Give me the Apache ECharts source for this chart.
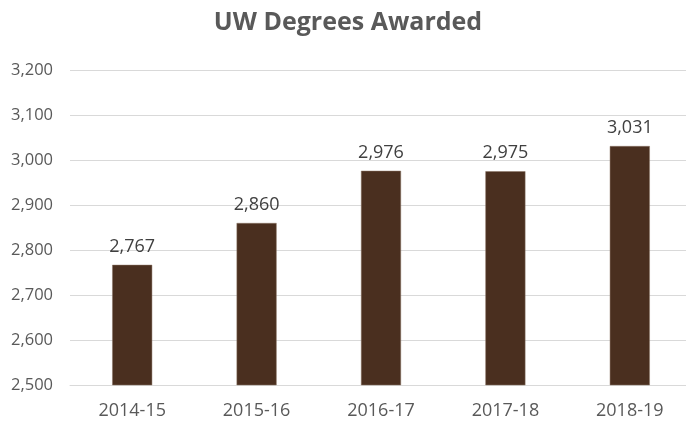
<!DOCTYPE html>
<html>
<head>
<meta charset="utf-8">
<script src="https://cdn.jsdelivr.net/npm/echarts@6/dist/echarts.min.js"></script>
<style>
html,body{margin:0;padding:0;background:#fff;overflow:hidden;}
#chart{width:694px;height:427px;}
</style>
</head>
<body>
<div id="chart"></div>
<script>
const titleText = 'UW Degrees Awarded';
const categories = ['2014-15', '2015-16', '2016-17', '2017-18', '2018-19'];
const degrees = [2767, 2860, 2976, 2975, 3031];
const yMin = 2500, yMax = 3200, yStep = 100;

const chart = echarts.init(document.getElementById('chart'));
const fmt = v => v.toLocaleString('en-US');
chart.setOption({
  animation: false,
  backgroundColor: '#ffffff',
  title: {
    text: titleText,
    left: 343,
    textAlign: 'center',
    top: 5,
    textStyle: { fontFamily: 'Open Sans', fontWeight: 'bold', fontSize: 25, color: '#595959' }
  },
  grid: { left: 70, top: 70, right: 2, height: 315, containLabel: false },
  xAxis: {
    type: 'category',
    data: categories,
    axisLine: { lineStyle: { color: '#d9d9d9', width: 1 } },
    axisTick: { show: false },
    axisLabel: { color: '#595959', fontFamily: 'Open Sans', fontSize: 18, margin: 17 }
  },
  yAxis: {
    type: 'value',
    min: yMin, max: yMax, interval: yStep,
    axisLine: { show: false },
    axisTick: { show: false },
    splitLine: { lineStyle: { color: '#d9d9d9', width: 1 } },
    axisLabel: { color: '#595959', fontFamily: 'Open Sans', fontSize: 16.5, margin: 17, formatter: fmt }
  },
  series: [{
    type: 'bar',
    data: degrees,
    barWidth: 40,
    itemStyle: { color: '#4a2f1f', borderColor: '#8a7565', borderWidth: 0.5 },
    label: {
      show: true, position: 'top', distance: 9,
      color: '#404040', fontFamily: 'Open Sans', fontSize: 18,
      formatter: p => fmt(p.value)
    }
  }]
});
</script>
</body>
</html>
